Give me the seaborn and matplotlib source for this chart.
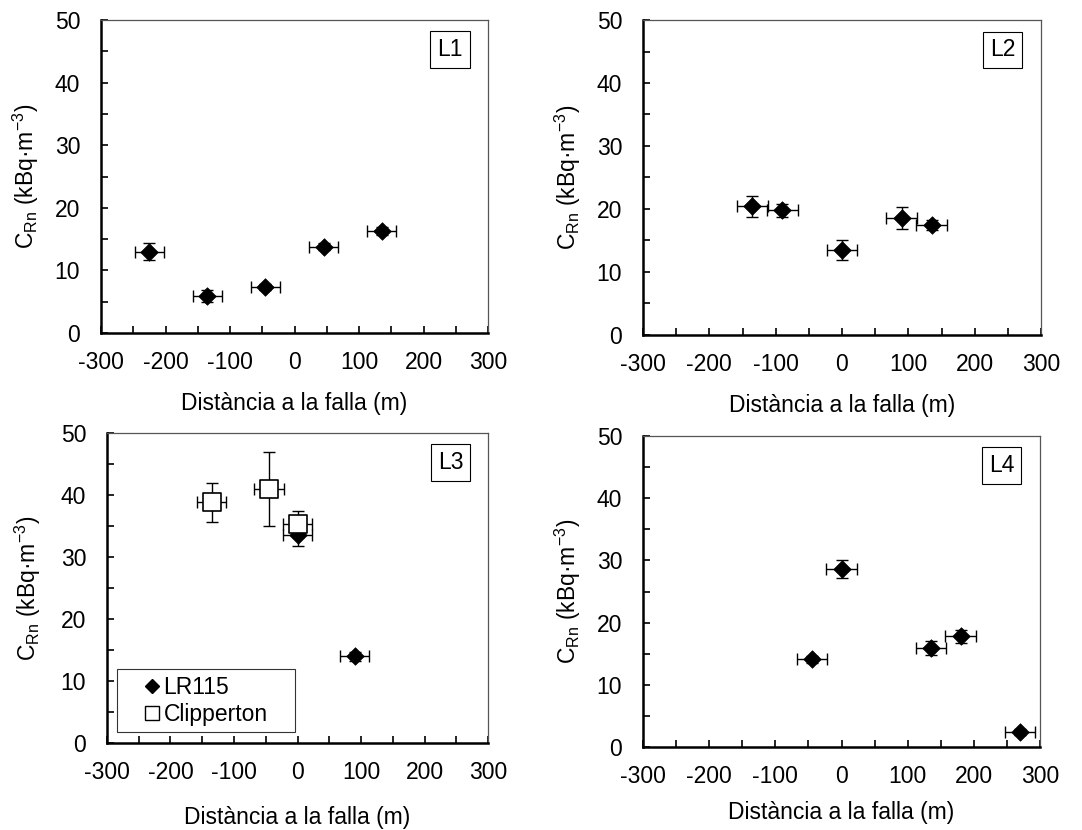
import numpy as np
import pandas as pd
import matplotlib
matplotlib.use("Agg")
import matplotlib.pyplot as plt
import seaborn as sns
from matplotlib.lines import Line2D

sns.set_theme(style="white")
plt.rcParams['font.family'] = ['Liberation Sans', 'DejaVu Sans']
plt.rcParams['mathtext.fontset'] = 'custom'
plt.rcParams['mathtext.rm'] = 'Liberation Sans'
plt.rcParams['mathtext.it'] = 'Liberation Sans'
plt.rcParams['axes.unicode_minus'] = False
plt.rcParams['text.color'] = 'black'
plt.rcParams['axes.labelcolor'] = 'black'
plt.rcParams['xtick.color'] = 'black'
plt.rcParams['ytick.color'] = 'black'

# ---- data ----
# L1 (LR115)
l1_x = [-225, -135, -45, 45, 135]
l1_y = [13.0, 5.9, 7.4, 13.8, 16.3]
l1_yerr = [1.3, 0.9, 0.5, 0.6, 0.7]
# L2 (LR115)
l2_x = [-135, -90, 0, 90, 135]
l2_y = [20.4, 19.8, 13.5, 18.6, 17.5]
l2_yerr = [1.6, 1.0, 1.6, 1.7, 0.8]
# L3 (LR115 + Clipperton)
l3_x = [0, 90]
l3_y = [33.5, 14.0]
l3_yerr = [1.8, 0.7]
l3c_x = [-135, -45, 0]
l3c_y = [38.8, 41.0, 35.3]
l3c_yerr = [3.2, 6.0, 2.1]
# L4 (LR115)
l4_x = [-45, 0, 135, 180, 270]
l4_y = [14.1, 28.6, 15.9, 17.8, 2.4]
l4_yerr = [0.6, 1.5, 1.1, 1.0, 0.5]
x_err = 23

panel_names = ["L1", "L2", "L3", "L4"]
xticks = [-300, -200, -100, 0, 100, 200, 300]
yticks = [0, 10, 20, 30, 40, 50]
xlabel = "Distància a la falla (m)"
ylabel = r"C$_{\mathregular{Rn}}$ (kBq·m$^{\mathregular{-3}}$)"

FS = 16.5

fig = plt.figure(figsize=(10.82, 8.30), dpi=100)
W, H = 1082, 830
# axes rectangles in pixels: left, top, right, bottom
rects = [(101, 20, 488, 333), (643, 20, 1041, 335),
         (107, 433, 488, 743), (643, 436, 1040, 747)]
xlabelpads = [13, 13, 15.5, 9.5]
ylabelpads = [10, 10, 13, 10]
axes = []
for (l, t, r, b) in rects:
    ax = fig.add_axes([l / W, 1 - b / H, (r - l) / W, (b - t) / H])
    axes.append(ax)

lr_data = [(l1_x, l1_y, l1_yerr), (l2_x, l2_y, l2_yerr),
           (l3_x, l3_y, l3_yerr), (l4_x, l4_y, l4_yerr)]

for i, ax in enumerate(axes):
    xs, ys, ye = lr_data[i]
    df = pd.DataFrame({"x": xs, "y": ys})
    ax.errorbar(xs, ys, yerr=ye, xerr=x_err, fmt='none', ecolor='black',
                elinewidth=1.0, capsize=4, capthick=1.0, zorder=2)
    sns.scatterplot(data=df, x="x", y="y", marker="D", s=80, color="black",
                    edgecolor="black", linewidth=0.5, ax=ax, zorder=3)
    if i == 2:
        dfc = pd.DataFrame({"x": l3c_x, "y": l3c_y})
        ax.errorbar(l3c_x, l3c_y, yerr=l3c_yerr, xerr=x_err, fmt='none',
                    ecolor='black', elinewidth=1.0, capsize=4, capthick=1.0, zorder=4)
        sns.scatterplot(data=dfc, x="x", y="y", marker="s", s=170, color="white",
                        edgecolor="black", linewidth=1.2, ax=ax, zorder=5)
        handles = [Line2D([], [], marker='D', color='black', linestyle='none', markersize=7.5),
                   Line2D([], [], marker='s', markerfacecolor='white', markeredgecolor='black',
                          linestyle='none', markersize=10)]
        leg = ax.legend(handles, ["LR115", "Clipperton"], loc='lower left',
                        bbox_to_anchor=(0.026, 0.034, 0.467, 0.2), mode='expand',
                        fontsize=FS, frameon=True,
                        fancybox=False, edgecolor='black', handlelength=2.45,
                        handletextpad=-0.72, borderpad=0.3, labelspacing=0.15,
                        borderaxespad=0)
        leg.get_frame().set_linewidth(0.8)
        leg.set_zorder(10)

    ax.set_xlim(-300, 300)
    ax.set_ylim(0, 50)
    ax.set_xticks(xticks)
    ax.set_yticks(yticks)
    ax.set_xticks(np.arange(-250, 300, 100), minor=True)
    ax.set_yticks(np.arange(5, 50, 10), minor=True)
    ax.tick_params(axis='both', which='both', direction='in', length=5, width=1.2,
                   color='black', labelcolor='black', labelsize=FS)
    ax.tick_params(axis='x', which='both', top=False, bottom=True, pad=13)
    ax.tick_params(axis='y', which='both', left=True, right=False, pad=15)
    ax.set_xlabel(xlabel, fontsize=FS, labelpad=xlabelpads[i], color='black')
    ax.set_ylabel(ylabel, fontsize=FS, labelpad=ylabelpads[i], color='black')
    for s in ['left', 'bottom']:
        ax.spines[s].set_color('black')
        ax.spines[s].set_linewidth(1.8)
    for s in ['top', 'right']:
        ax.spines[s].set_color('#555555')
        ax.spines[s].set_linewidth(0.9)
    ax.text(0.935, 0.905, panel_names[i], transform=ax.transAxes, fontsize=FS,
            ha='right', va='center', color='black',
            bbox=dict(boxstyle='square,pad=0.3', facecolor='white', edgecolor='black',
                      linewidth=0.8))

fig.savefig("out.png", dpi=100)
